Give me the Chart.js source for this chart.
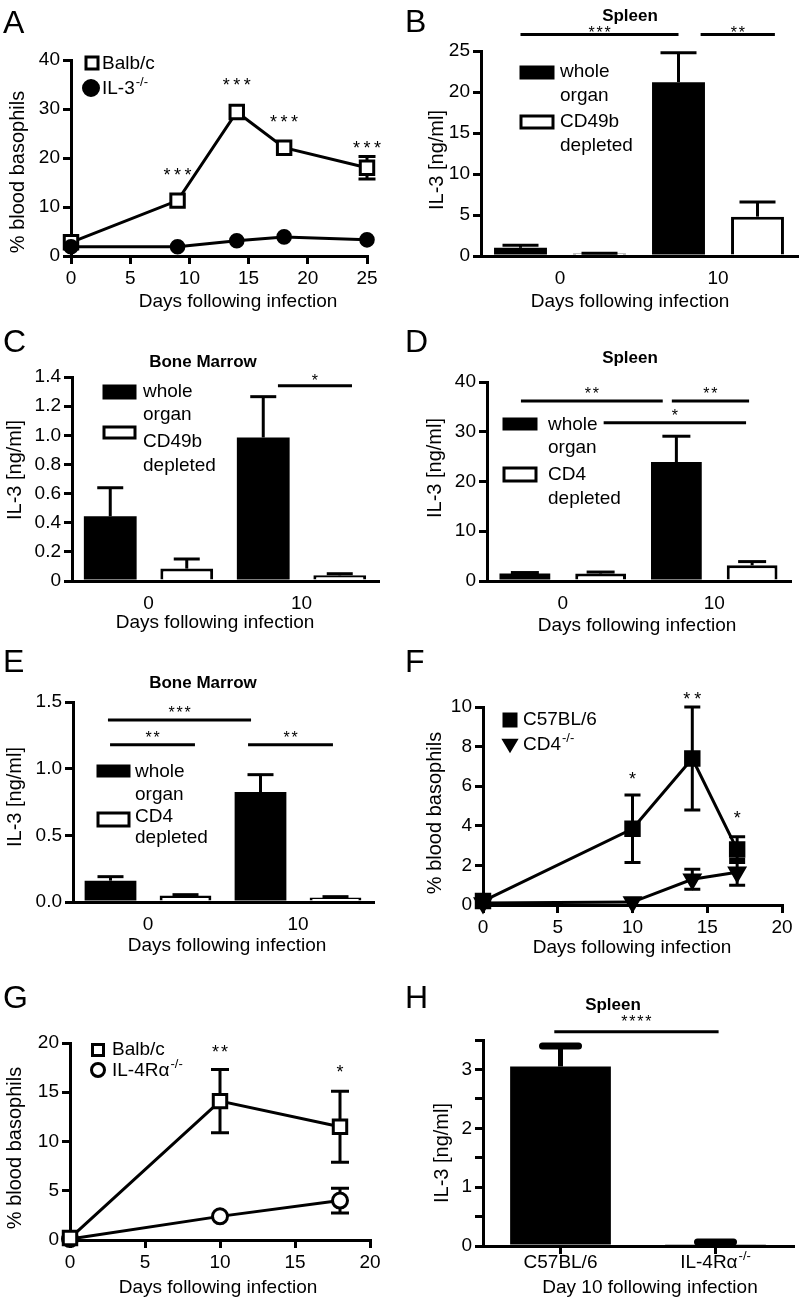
<!DOCTYPE html>
<html>
<head>
<meta charset="utf-8">
<script src="https://cdn.jsdelivr.net/npm/chart.js@4.4.0/dist/chart.umd.min.js"></script>
<style>
  body { margin: 0; background: #fff; width: 802px; height: 1299px; position: relative; overflow: hidden; }
  canvas { position: absolute; }
</style>
</head>
<body>
<canvas id="cA"></canvas>
<canvas id="cB"></canvas>
<canvas id="cC"></canvas>
<canvas id="cD"></canvas>
<canvas id="cE"></canvas>
<canvas id="cF"></canvas>
<canvas id="cG"></canvas>
<canvas id="cH"></canvas>
<script>
// --- DATA ---
// A: blood basophils, Balb/c vs IL-3-/-
const aDays = [0, 9, 14, 18, 25];
const aBalb = [2.8, 11.3, 29.4, 22.1, 18.0];
const aBalbSem = [0, 0, 0, 0, 2.3];
const aIl3 = [1.9, 1.9, 3.1, 3.9, 3.3];
const aIl3Sem = [0, 0, 0, 0, 0];
const aStarDays = [9, 14, 18, 25];
const aStarLevel = [17.5, 35.7, 28.3, 22.9];
const aStarText = ['***', '***', '***', '***'];

// B: spleen IL-3, whole organ vs CD49b depleted
const bDays = ['0', '10'];
const bWhole = [1.0, 21.2];
const bWholeSem = [0.3, 3.6];
const bCd49b = [0.3, 4.8];
const bCd49bSem = [0.05, 1.8];
const bSigFrom = [-0.25, 0.89];
const bSigTo = [0.75, 1.36];
const bSigLevel = [27, 27];
const bSigText = ['***', '**'];

// C: bone marrow IL-3, whole organ vs CD49b depleted
const cDays = ['0', '10'];
const cWhole = [0.444, 0.985];
const cWholeSem = [0.196, 0.28];
const cCd49b = [0.085, 0.039];
const cCd49bSem = [0.066, 0.011];
const cSigFrom = [0.846];
const cSigTo = [1.33];
const cSigLevel = [1.34];
const cSigText = ['*'];

// D: spleen IL-3, whole organ vs CD4 depleted
const dDays = ['0', '10'];
const dWhole = [1.5, 23.9];
const dWholeSem = [0.2, 5.2];
const dCd4 = [1.5, 3.15];
const dCd4Sem = [0.3, 0.75];
const dSigFrom = [-0.276, 0.72, 0.27];
const dSigTo = [0.66, 1.23, 1.21];
const dSigLevel = [36.2, 36.2, 31.8];
const dSigText = ['**', '**', '*'];

// E: bone marrow IL-3, whole organ vs CD4 depleted
const eDays = ['0', '10'];
const eWhole = [0.16, 0.825];
const eWholeSem = [0.03, 0.13];
const eCd4 = [0.048, 0.033];
const eCd4Sem = [0.007, 0.007];
const eSigFrom = [-0.267, -0.253, 0.667];
const eSigTo = [0.687, 0.313, 1.233];
const eSigLevel = [1.365, 1.18, 1.18];
const eSigText = ['***', '**', '**'];

// F: blood basophils, C57BL/6 vs CD4-/-
const fDays = [0, 10, 14, 17];
const fC57 = [0.2, 3.85, 7.4, 2.8];
const fC57Sem = [0, 1.7, 2.6, 0.65];
const fCd4 = [0.1, 0.15, 1.3, 1.65];
const fCd4Sem = [0, 0, 0.5, 0.65];
const fStarDays = [10, 14, 17];
const fStarLevel = [6.6, 10.6, 4.6];
const fStarText = ['*', '**', '*'];

// G: blood basophils, Balb/c vs IL-4Ra-/-
const gDays = [0, 10, 18];
const gBalb = [0.2, 14.1, 11.5];
const gBalbSem = [0, 3.2, 3.6];
const gIl4 = [0.1, 2.4, 4.0];
const gIl4Sem = [0, 0, 1.25];
const gStarDays = [10, 18];
const gStarLevel = [19.5, 17.5];
const gStarText = ['**', '*'];

// H: spleen IL-3 at day 10
const hStrains = ['C57BL/6', 'IL-4R\u03b1'];
const hStrainSup = ['', '-/-'];
const hIl3 = [3.05, 0.03];
const hIl3Sem = [0.35, 0.04];
const hSigFrom = [-0.04];
const hSigTo = [1.02];
const hSigLevel = [3.64];
const hSigText = ['****'];

// --- DEFAULTS ---
const FAM = '"Liberation Sans", Arial, Helvetica, sans-serif';
Chart.defaults.font.family = FAM;
Chart.defaults.font.size = 19;
Chart.defaults.color = '#000';
Chart.defaults.animation = false;
Chart.defaults.plugins.legend.display = false;
Chart.defaults.plugins.tooltip.enabled = false;

// --- DECORATION PLUGIN (error bars, labels, legends, significance) ---
const specs = {};

function drawErr(chart, s) {
  const ctx = chart.ctx, ys = chart.scales.y;
  ctx.save();
  ctx.strokeStyle = '#000';
  chart.data.datasets.forEach((ds, i) => {
    if (!ds.sem) return;
    chart.getDatasetMeta(i).data.forEach((el, j) => {
      const e = ds.sem[j];
      if (!e) return;
      const raw = ds.data[j];
      const v = typeof raw === 'object' ? raw.y : raw;
      const top = ys.getPixelForValue(v + e);
      const bot = s.errBelow ? ys.getPixelForValue(v - e) : el.y;
      const hw = s.cap / 2;
      ctx.lineCap = 'butt';
      ctx.lineWidth = s.errLW || 3;
      ctx.beginPath();
      ctx.moveTo(el.x, top);
      ctx.lineTo(el.x, bot);
      ctx.stroke();
      ctx.lineWidth = s.capLW || 3;
      ctx.lineCap = s.capRound ? 'round' : 'butt';
      ctx.beginPath();
      ctx.moveTo(el.x - hw, top);
      ctx.lineTo(el.x + hw, top);
      if (s.errBelow) {
        ctx.moveTo(el.x - hw, bot);
        ctx.lineTo(el.x + hw, bot);
      }
      ctx.stroke();
    });
  });
  ctx.restore();
}

function stars(ctx, t, cx, cy, size, gap) {
  ctx.font = size + 'px ' + FAM;
  ctx.textAlign = 'center';
  ctx.textBaseline = 'alphabetic';
  const n = t.length;
  for (let k = 0; k < n; k++) {
    ctx.fillText('*', cx + (k - (n - 1) / 2) * gap, cy + 0.575 * size);
  }
}

function textSup(ctx, t, sup, x, y, align) {
  ctx.font = '19px ' + FAM;
  ctx.textBaseline = 'middle';
  ctx.textAlign = 'left';
  const w1 = ctx.measureText(t).width;
  ctx.font = '13px ' + FAM;
  const w2 = sup ? ctx.measureText(sup).width + 1 : 0;
  const x0 = align === 'center' ? x - (w1 + w2) / 2 : x;
  ctx.font = '19px ' + FAM;
  ctx.fillText(t, x0, y);
  if (sup) {
    ctx.font = '13px ' + FAM;
    ctx.fillText(sup, x0 + w1 + 1, y - 7);
  }
}

function mark(ctx, m, ox, oy) {
  ctx.save();
  ctx.lineWidth = 3;
  ctx.strokeStyle = '#000';
  ctx.fillStyle = m.fill ? '#000' : '#fff';
  ctx.beginPath();
  if (m.kind === 'box') {
    ctx.rect(m.x1 - ox, m.y1 - oy, m.x2 - m.x1, m.y2 - m.y1);
  } else {
    const x = m.x - ox, y = m.y - oy, r = m.size / 2;
    if (m.kind === 'rect') ctx.rect(x - r, y - r, 2 * r, 2 * r);
    else if (m.kind === 'circle') ctx.arc(x, y, r, 0, Math.PI * 2);
    else if (m.kind === 'tri') {
      ctx.moveTo(x - r, y - r * 0.8);
      ctx.lineTo(x + r, y - r * 0.8);
      ctx.lineTo(x, y + r * 0.9);
      ctx.closePath();
    }
  }
  ctx.fill();
  ctx.stroke();
  ctx.restore();
}

function drawDeco(chart, s) {
  const ctx = chart.ctx, ox = s.box.x, oy = s.box.y;
  const xs = chart.scales.x, ys = chart.scales.y;
  ctx.save();
  ctx.fillStyle = '#000';
  ctx.strokeStyle = '#000';

  // panel letter
  ctx.font = '32px ' + FAM;
  ctx.textAlign = 'left';
  ctx.textBaseline = 'alphabetic';
  ctx.fillText(s.letter[0], s.letter[1] - ox, s.letter[2] - oy);

  // panel title
  if (s.title) {
    ctx.font = 'bold 17px ' + FAM;
    ctx.textAlign = 'center';
    ctx.textBaseline = 'middle';
    ctx.fillText(s.title[0], s.title[1] - ox, s.title[2] - oy);
  }

  // axis titles
  ctx.font = '19px ' + FAM;
  ctx.textAlign = 'center';
  ctx.textBaseline = 'middle';
  ctx.fillText(s.xTitle[0], s.xTitle[1] - ox, s.xTitle[2] - oy);
  ctx.save();
  ctx.font = '20px ' + FAM;
  ctx.translate(s.yTitle[1] - ox, s.yTitle[2] - oy);
  ctx.rotate(-Math.PI / 2);
  ctx.fillText(s.yTitle[0], 0, 0);
  ctx.restore();

  // legend
  (s.legend || []).forEach(it => {
    if (it.kind) mark(ctx, it, ox, oy);
    else textSup(ctx, it.t, it.sup, it.x - ox, it.y - oy, 'left');
  });

  // significance bars between groups
  if (s.sig) {
    const g = s.sig;
    g.text.forEach((t, i) => {
      const x1 = xs.getPixelForValue(g.from[i]);
      const x2 = xs.getPixelForValue(g.to[i]);
      const yy = ys.getPixelForValue(g.level[i]);
      ctx.lineWidth = 3;
      ctx.beginPath();
      ctx.moveTo(x1, yy);
      ctx.lineTo(x2, yy);
      ctx.stroke();
      stars(ctx, t, (x1 + x2) / 2, yy - g.dy, g.size, g.gap);
    });
  }

  // stars over time points
  if (s.stars) {
    const g = s.stars;
    g.text.forEach((t, i) => {
      stars(ctx, t, xs.getPixelForValue(g.days[i]), ys.getPixelForValue(g.level[i]), g.size, g.gap);
    });
  }

  // category labels with superscripts
  if (s.xLabels) {
    s.xLabels.labels.forEach((t, i) => {
      textSup(ctx, t, s.xLabels.sups[i], xs.getPixelForValue(i), s.xLabels.y - oy, 'center');
    });
  }
  ctx.restore();
}

Chart.register({
  id: 'deco',
  beforeDatasetsDraw(chart) {
    const s = specs[chart.canvas.id];
    if (s && s.errBelow) drawErr(chart, s);
  },
  afterDatasetsDraw(chart) {
    const s = specs[chart.canvas.id];
    if (s && !s.errBelow) drawErr(chart, s);
  },
  afterDraw(chart) {
    const s = specs[chart.canvas.id];
    if (s) drawDeco(chart, s);
  }
});

// --- AXES / CHART BUILDERS ---
function yAxis(max, step, cb) {
  return {
    min: 0, max: max,
    border: { color: '#000', width: 3 },
    grid: { drawOnChartArea: false, color: '#000', lineWidth: 3, tickLength: 8 },
    ticks: { stepSize: step, padding: 3, autoSkip: false, callback: cb || (v => v) }
  };
}

function barChart(labels, sets, yMax, step, cb, barPct, xTicks) {
  return {
    type: 'bar',
    data: {
      labels: labels,
      datasets: sets.map(s => ({
        data: s.data, sem: s.sem,
        backgroundColor: s.fill, borderColor: '#000',
        borderWidth: s.fill === '#000' ? 0 : 3,
        barPercentage: barPct, categoryPercentage: 1
      }))
    },
    options: {
      responsive: false,
      scales: {
        x: {
          z: 1,
          border: { color: '#000', width: 3 },
          grid: {
            drawOnChartArea: false, offset: !xTicks, color: '#000', lineWidth: 3, tickLength: 8,
            tickColor: xTicks ? '#000' : 'rgba(0,0,0,0)'
          },
          ticks: {
            padding: 3, maxRotation: 0, autoSkip: false,
            callback: function (v) { return xTicks ? '' : this.getLabelForValue(v); }
          }
        },
        y: yAxis(yMax, step, cb)
      }
    }
  };
}

function lineChart(sets, xMax, yMax, yStep) {
  return {
    type: 'scatter',
    data: {
      datasets: sets.map(s => ({
        data: s.days.map((d, i) => ({ x: d, y: s.vals[i] })),
        sem: s.sem, showLine: true, clip: false,
        borderColor: '#000', borderWidth: 3,
        pointStyle: s.style, pointRadius: s.r, pointRotation: s.rot || 0,
        pointBackgroundColor: s.fill, pointBorderColor: '#000', pointBorderWidth: 3
      }))
    },
    options: {
      responsive: false,
      scales: {
        x: {
          type: 'linear', min: 0, max: xMax,
          border: { color: '#000', width: 3 },
          grid: { drawOnChartArea: false, color: '#000', lineWidth: 3, tickLength: 8 },
          ticks: { stepSize: 5, padding: 3, maxRotation: 0, autoSkip: false }
        },
        y: yAxis(yMax, yStep)
      }
    }
  };
}

function makePanel(id, area, cfg) {
  const box = specs[id].box;
  const cv = document.getElementById(id);
  cv.width = box.w;
  cv.height = box.h;
  cv.style.left = box.x + 'px';
  cv.style.top = box.y + 'px';
  cfg.options.layout = { padding: { left: 0, top: area.t - box.y, right: box.x + box.w - area.r, bottom: 0 } };
  cfg.options.scales.x.afterFit = sc => { sc.height = box.y + box.h - area.b; };
  cfg.options.scales.y.afterFit = sc => { sc.width = area.l - box.x; };
  new Chart(cv, cfg);
}

const oneDec = v => v.toFixed(1);
const oneDecZero = v => (v === 0 ? '0' : v.toFixed(1));

// --- A ---
specs.cA = {
  box: { x: 0, y: 0, w: 400, h: 320 },
  letter: ['A', 3, 33],
  xTitle: ['Days following infection', 238, 302],
  yTitle: ['% blood basophils', 18, 172],
  errBelow: true, cap: 17,
  legend: [
    { kind: 'rect', fill: false, x: 92, y: 63, size: 12 },
    { t: 'Balb/c', x: 102, y: 64 },
    { kind: 'circle', fill: true, x: 91, y: 88, size: 15 },
    { t: 'IL-3', x: 102, y: 89, sup: '-/-' }
  ],
  stars: { days: aStarDays, level: aStarLevel, text: aStarText, size: 18, gap: 10.5 }
};
makePanel('cA', { l: 71, t: 60, r: 367, b: 256 }, lineChart([
  { days: aDays, vals: aIl3, sem: aIl3Sem, style: 'circle', r: 6.3, fill: '#000' },
  { days: aDays, vals: aBalb, sem: aBalbSem, style: 'rect', r: 9.5, fill: '#fff' }
], 25, 40, 10));

// --- B ---
specs.cB = {
  box: { x: 400, y: 0, w: 402, h: 320 },
  letter: ['B', 405, 32],
  title: ['Spleen', 630, 16],
  xTitle: ['Days following infection', 630, 302],
  yTitle: ['IL-3 [ng/ml]', 437, 160],
  cap: 36,
  legend: [
    { kind: 'box', fill: true, x1: 521, y1: 67, x2: 553, y2: 78 },
    { t: 'whole', x: 560, y: 72 }, { t: 'organ', x: 560, y: 96 },
    { kind: 'box', fill: false, x1: 521, y1: 116, x2: 553, y2: 128 },
    { t: 'CD49b', x: 560, y: 122 }, { t: 'depleted', x: 560, y: 146 }
  ],
  sig: { from: bSigFrom, to: bSigTo, level: bSigLevel, text: bSigText, size: 16, gap: 8, dy: 6 }
};
makePanel('cB', { l: 481, t: 51, r: 797, b: 256 }, barChart(bDays, [
  { data: bWhole, sem: bWholeSem, fill: '#000' },
  { data: bCd49b, sem: bCd49bSem, fill: '#fff' }
], 25, 5, null, 0.67));

// --- C ---
specs.cC = {
  box: { x: 0, y: 320, w: 400, h: 330 },
  letter: ['C', 3, 352],
  title: ['Bone Marrow', 203, 362],
  xTitle: ['Days following infection', 215, 623],
  yTitle: ['IL-3 [ng/ml]', 15, 470],
  cap: 26,
  legend: [
    { kind: 'box', fill: true, x1: 104, y1: 386, x2: 135, y2: 398 },
    { t: 'whole', x: 143, y: 392 }, { t: 'organ', x: 143, y: 415 },
    { kind: 'box', fill: false, x1: 104, y1: 427, x2: 135, y2: 438 },
    { t: 'CD49b', x: 143, y: 442 }, { t: 'depleted', x: 143, y: 466 }
  ],
  sig: { from: cSigFrom, to: cSigTo, level: cSigLevel, text: cSigText, size: 16, gap: 8, dy: 9 }
};
makePanel('cC', { l: 72, t: 377, r: 378, b: 581 }, barChart(cDays, [
  { data: cWhole, sem: cWholeSem, fill: '#000' },
  { data: cCd49b, sem: cCd49bSem, fill: '#fff' }
], 1.4, 0.2, oneDecZero, 0.69));

// --- D ---
specs.cD = {
  box: { x: 400, y: 320, w: 402, h: 330 },
  letter: ['D', 405, 352],
  title: ['Spleen', 630, 358],
  xTitle: ['Days following infection', 637, 626],
  yTitle: ['IL-3 [ng/ml]', 435, 468],
  cap: 28,
  legend: [
    { kind: 'box', fill: true, x1: 504, y1: 419, x2: 536, y2: 429 },
    { t: 'whole', x: 548, y: 425 }, { t: 'organ', x: 548, y: 448 },
    { kind: 'box', fill: false, x1: 504, y1: 468, x2: 536, y2: 481 },
    { t: 'CD4', x: 548, y: 475 }, { t: 'depleted', x: 548, y: 499 }
  ],
  sig: { from: dSigFrom, to: dSigTo, level: dSigLevel, text: dSigText, size: 16, gap: 8, dy: 11 }
};
makePanel('cD', { l: 487, t: 382, r: 790, b: 581 }, barChart(dDays, [
  { data: dWhole, sem: dWholeSem, fill: '#000' },
  { data: dCd4, sem: dCd4Sem, fill: '#fff' }
], 40, 10, null, 0.67));

// --- E ---
specs.cE = {
  box: { x: 0, y: 650, w: 400, h: 330 },
  letter: ['E', 3, 672],
  title: ['Bone Marrow', 203, 683],
  xTitle: ['Days following infection', 227, 946],
  yTitle: ['IL-3 [ng/ml]', 15, 797],
  cap: 26,
  legend: [
    { kind: 'box', fill: true, x1: 98, y1: 766, x2: 129, y2: 776 },
    { t: 'whole', x: 135, y: 772 }, { t: 'organ', x: 135, y: 795 },
    { kind: 'box', fill: false, x1: 98, y1: 813, x2: 129, y2: 826 },
    { t: 'CD4', x: 135, y: 817 }, { t: 'depleted', x: 135, y: 838 }
  ],
  sig: { from: eSigFrom, to: eSigTo, level: eSigLevel, text: eSigText, size: 16, gap: 8, dy: 11 }
};
makePanel('cE', { l: 73, t: 702, r: 373, b: 902 }, barChart(eDays, [
  { data: eWhole, sem: eWholeSem, fill: '#000' },
  { data: eCd4, sem: eCd4Sem, fill: '#fff' }
], 1.5, 0.5, oneDec, 0.69));

// --- F ---
specs.cF = {
  box: { x: 400, y: 650, w: 402, h: 330 },
  letter: ['F', 405, 672],
  xTitle: ['Days following infection', 632, 948],
  yTitle: ['% blood basophils', 435, 813],
  errBelow: true, cap: 16,
  legend: [
    { kind: 'rect', fill: true, x: 510, y: 720, size: 12 },
    { t: 'C57BL/6', x: 523, y: 720 },
    { kind: 'tri', fill: true, x: 510, y: 745, size: 12 },
    { t: 'CD4', x: 523, y: 745, sup: '-/-' }
  ],
  stars: { days: fStarDays, level: fStarLevel, text: fStarText, size: 18, gap: 11 }
};
makePanel('cF', { l: 483, t: 707, r: 782, b: 905 }, lineChart([
  { days: fDays, vals: fC57, sem: fC57Sem, style: 'rect', r: 9.5, fill: '#000' },
  { days: fDays, vals: fCd4, sem: fCd4Sem, style: 'triangle', r: 8.5, rot: 180, fill: '#000' }
], 20, 10, 2));

// --- G ---
specs.cG = {
  box: { x: 0, y: 980, w: 400, h: 319 },
  letter: ['G', 3, 1008],
  xTitle: ['Days following infection', 218, 1288],
  yTitle: ['% blood basophils', 15, 1148],
  errBelow: true, cap: 18,
  legend: [
    { kind: 'rect', fill: false, x: 98, y: 1050, size: 11 },
    { t: 'Balb/c', x: 112, y: 1050 },
    { kind: 'circle', fill: false, x: 98, y: 1070, size: 13 },
    { t: 'IL-4R\u03b1', x: 112, y: 1071, sup: '-/-' }
  ],
  stars: { days: gStarDays, level: gStarLevel, text: gStarText, size: 18, gap: 9 }
};
makePanel('cG', { l: 70, t: 1043, r: 370, b: 1240 }, lineChart([
  { days: gDays, vals: gBalb, sem: gBalbSem, style: 'rect', r: 9.5, fill: '#fff' },
  { days: gDays, vals: gIl4, sem: gIl4Sem, style: 'circle', r: 7.5, fill: '#fff' }
], 20, 20, 5));

// --- H ---
specs.cH = {
  box: { x: 400, y: 980, w: 402, h: 319 },
  letter: ['H', 405, 1008],
  title: ['Spleen', 613, 1005],
  xTitle: ['Day 10 following infection', 650, 1288],
  yTitle: ['IL-3 [ng/ml]', 442, 1153],
  cap: 36, errLW: 5, capLW: 7, capRound: true,
  sig: { from: hSigFrom, to: hSigTo, level: hSigLevel, text: hSigText, size: 16, gap: 8, dy: 14 },
  xLabels: { labels: hStrains, sups: hStrainSup, y: 1263 }
};
makePanel('cH', { l: 483, t: 1040, r: 793, b: 1246 }, barChart(hStrains, [
  { data: hIl3, sem: hIl3Sem, fill: '#000' }
], 3.5, 0.5, v => (Number.isInteger(v) ? v : ''), 0.65, true));
</script>
</body>
</html>
